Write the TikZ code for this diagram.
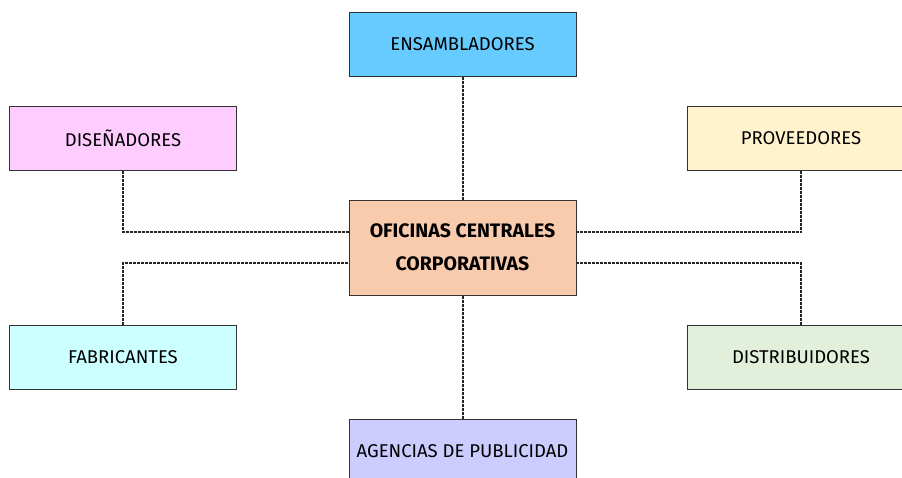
\documentclass[tikz,border=0pt]{standalone}
\usepackage{fontspec}
\setmainfont{Fira Sans}
\definecolor{cEns}{HTML}{66CCFF}
\definecolor{cDis}{HTML}{FFCCFF}
\definecolor{cPro}{HTML}{FFF2CC}
\definecolor{cCen}{HTML}{F8CBAD}
\definecolor{cFab}{HTML}{CCFFFF}
\definecolor{cDst}{HTML}{E2EFDA}
\definecolor{cAge}{HTML}{CCCCFF}
\begin{document}
\begin{tikzpicture}[x=1pt,y=-1pt,
	caja/.style={draw=black!80,line width=1pt,minimum width=227pt,minimum height=64pt,inner sep=0pt,font=\fontsize{18.5}{22}\selectfont},
	enlace/.style={draw=black!85,line width=2pt,dash pattern=on 3pt off 1pt}]
				\useasboundingbox (0,0) rectangle (902,477);
				\fill[white] (0,0) rectangle (902,477);
				\clip (0,0) rectangle (902,477);
				
				\node[caja,fill=cEns] (ens) at (462.5,44) {ENSAMBLADORES};
				\node[caja,fill=cDis] (dis) at (123,138) {DISEÑADORES};
				\node[caja,fill=cPro] (pro) at (801,138) {PROVEEDORES};
				\node[caja,fill=cCen,minimum height=95pt,align=center,font=\bfseries\fontsize{19.5}{33}\selectfont] (cen) at (462.5,247.5) {OFICINAS CENTRALES\\CORPORATIVAS};
				\node[caja,fill=cFab] (fab) at (123,357.5) {FABRICANTES};
				\node[caja,fill=cDst] (dst) at (801,357.5) {DISTRIBUIDORES};
				\node[caja,fill=cAge] (age) at (462.5,451) {AGENCIAS DE PUBLICIDAD};
				
				\draw[enlace] (ens) -- (cen);
				\draw[enlace] (cen) -- (age);
				
				\foreach \c/\a/\l/\d in {dis/south/west/15.5, pro/south/east/15.5, fab/north/west/-15.5, dst/north/east/-15.5} {
					\draw[enlace] (\c.\a) |- ([yshift=\d pt]cen.\l);
				}
			\end{tikzpicture}
\end{document}
